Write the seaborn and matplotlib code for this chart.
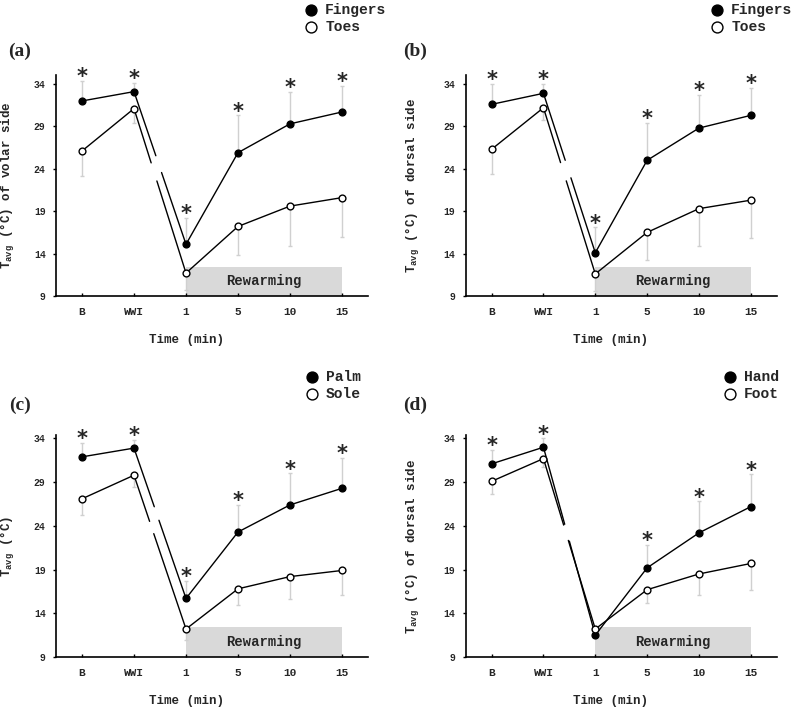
import numpy as np
import pandas as pd
import seaborn as sns
import matplotlib.pyplot as plt

# --- dados ---
times = ['B', 'WWI', '1', '5', '10', '15']
yticks = [9, 14, 19, 24, 29, 34]

# (a) lado volar
a_fingers = [32.0, 33.1, 15.1, 25.9, 29.3, 30.7]
a_fingers_sd = [2.35, 1.0, 3.1, 4.4, 3.8, 3.1]
a_toes = [26.1, 31.1, 11.7, 17.2, 19.6, 20.6]
a_toes_sd = [3.0, 1.7, 2.0, 3.4, 4.7, 4.6]
a_stars = [1, 1, 1, 1, 1, 1]

# (b) lado dorsal
b_fingers = [31.6, 32.9, 14.1, 25.0, 28.8, 30.3]
b_fingers_sd = [2.4, 1.1, 3.0, 4.4, 3.9, 3.2]
b_toes = [26.3, 31.2, 11.6, 16.5, 19.3, 20.3]
b_toes_sd = [2.9, 1.4, 2.0, 3.2, 4.4, 4.5]
b_stars = [1, 1, 1, 1, 1, 1]

# (c) palma / planta
c_palm = [31.9, 32.9, 15.7, 23.3, 26.4, 28.3]
c_palm_sd = [1.6, 0.9, 2.0, 3.1, 3.6, 3.5]
c_sole = [27.1, 29.8, 12.2, 16.8, 18.2, 18.9]
c_sole_sd = [1.9, 1.3, 1.2, 1.9, 2.6, 2.8]
c_stars = [1, 1, 1, 1, 1, 1]

# (d) dorso mão / pé
d_hand = [31.1, 33.0, 11.5, 19.2, 23.2, 26.2]
d_hand_sd = [1.6, 1.0, 0.0, 2.6, 3.6, 3.7]
d_foot = [29.1, 31.7, 12.2, 16.7, 18.5, 19.7]
d_foot_sd = [1.5, 1.0, 0.0, 1.5, 2.4, 3.0]
d_stars = [1, 1, 0, 1, 1, 1]

sns.set_style('ticks')
plt.rcParams['font.family'] = ['Liberation Mono', 'DejaVu Sans']
plt.rcParams['font.weight'] = 'bold'
plt.rcParams['axes.labelweight'] = 'bold'

W, H = 793, 708
fig = plt.figure(figsize=(W / 100, H / 100), dpi=100)

MONO = ['Liberation Mono', 'DejaVu Sans']


def px(x, y):
    # pixels da imagem -> fração da figura
    return x / W, 1 - y / H


def draw_panel(rect, top, upper, upper_sd, lower, lower_sd, names, stars,
               ylabel, tag, tag_xy, leg_xy, xlab_xy, ylab_x, gaps):
    ax = fig.add_axes(rect)
    x = np.arange(len(times))
    up = np.array(upper)
    lo = np.array(lower)

    # caixa de reaquecimento
    ax.fill_between([2, 5], 9, 12.45, color='#d9d9d9', lw=0, zorder=0)
    ax.text(3.5, 10.72, 'Rewarming', ha='center', va='center',
            fontsize=10, fontweight='bold', family=MONO, zorder=1)

    # barras de desvio (só um lado)
    ax.errorbar(x, up, yerr=[np.zeros_like(up), upper_sd], fmt='none',
                ecolor='#d0d0d0', elinewidth=1, capsize=1.5, zorder=1)
    ax.errorbar(x, lo, yerr=[lower_sd, np.zeros_like(lo)], fmt='none',
                ecolor='#d0d0d0', elinewidth=1, capsize=1.5, zorder=1)

    for vals, (g0, g1) in [(up, gaps[0]), (lo, gaps[1])]:
        sns.lineplot(x=x[:2], y=vals[:2], color='black', lw=1, ax=ax,
                     zorder=2, estimator=None, sort=False)
        sns.lineplot(x=x[2:], y=vals[2:], color='black', lw=1, ax=ax,
                     zorder=2, estimator=None, sort=False)
        # segmento WWI -> 1 interrompido (quebra do eixo)
        for t0, t1 in [(0, g0), (g1, 1)]:
            xs = [1 + t0, 1 + t1]
            ys = [vals[1] + t0 * (vals[2] - vals[1]), vals[1] + t1 * (vals[2] - vals[1])]
            ax.plot(xs, ys, color='black', lw=1, zorder=2)

    sns.scatterplot(x=x, y=up, color='black', edgecolor='black', s=24,
                    linewidth=1, ax=ax, zorder=3, label=names[0], legend=False)
    sns.scatterplot(x=x, y=lo, color='white', edgecolor='black', s=24,
                    linewidth=1, ax=ax, zorder=3, label=names[1], legend=False)

    # asteriscos de significância
    tops = up + np.array(upper_sd)
    for xi, yi, s in zip(x, tops, stars):
        if s:
            ax.annotate('*', xy=(xi, yi), xytext=(0, -4.5), textcoords='offset points',
                        ha='center', va='bottom', fontsize=15, fontweight='bold',
                        family='DejaVu Sans', annotation_clip=False)

    ax.set_xlim(-0.5, 5.5)
    ax.set_ylim(9, top)
    ax.set_xticks(x)
    ax.set_xticklabels(times, fontsize=8, fontweight='bold')
    ax.set_yticks(yticks)
    ax.set_yticklabels([str(v) for v in yticks], fontsize=7, fontweight='bold')
    ax.tick_params(axis='x', direction='in', length=2.5, width=1, color='black', pad=8)
    ax.tick_params(axis='y', direction='out', length=2.5, width=1, color='black', pad=5)
    sns.despine(ax=ax)
    for sp in ['left', 'bottom']:
        ax.spines[sp].set_linewidth(1.2)
        ax.spines[sp].set_color('black')

    ax.set_xlabel('Time (min)', fontsize=9, fontweight='bold')
    ax.xaxis.set_label_coords(*xlab_xy)
    ax.xaxis.label.set_va('center')
    ax.set_ylabel(ylabel, fontsize=9, fontweight='bold')
    ax.yaxis.set_label_coords(ylab_x, 0.5)
    ax.yaxis.label.set_va('center')

    handles, labels = ax.get_legend_handles_labels()
    keep = [(h, l) for h, l in zip(handles, labels) if l in names]
    ax.legend([h for h, _ in keep], [l for _, l in keep], loc='upper left',
              bbox_to_anchor=px(*leg_xy), bbox_transform=fig.transFigure,
              frameon=False, borderpad=0, handlelength=1, handletextpad=0.5,
              labelspacing=0.2, markerscale=1.6,
              prop={'family': MONO, 'weight': 'bold', 'size': 10.5})

    fig.text(*px(*tag_xy), tag, ha='center', va='center', fontsize=14,
             fontweight='bold', family='Liberation Serif')
    return ax


ylab_base = r'T$_\mathregular{avg}$ (°C)'

draw_panel([56 / W, 1 - 296 / H, 312 / W, 221 / H], 35.06,
           a_fingers, a_fingers_sd, a_toes, a_toes_sd, ['Fingers', 'Toes'], a_stars,
           ylab_base + ' of volar side', '(a)', (20, 51), (296, -4),
           (0.417, -0.197), -0.155, [(0.42, 0.53), (0.33, 0.44)])

draw_panel([465.7 / W, 1 - 296 / H, 311 / W, 221 / H], 35.06,
           b_fingers, b_fingers_sd, b_toes, b_toes_sd, ['Fingers', 'Toes'], b_stars,
           ylab_base + ' of dorsal side', '(b)', (415, 51), (702, -4),
           (0.464, -0.2), -0.169, [(0.42, 0.53), (0.33, 0.44)])

draw_panel([56 / W, 1 - 657 / H, 312 / W, 222 / H], 34.4,
           c_palm, c_palm_sd, c_sole, c_sole_sd, ['Palm', 'Sole'], c_stars,
           ylab_base, '(c)', (20, 405), (297, 363),
           (0.417, -0.198), -0.155, [(0.39, 0.48), (0.30, 0.38)])

draw_panel([465.7 / W, 1 - 657 / H, 311 / W, 222 / H], 34.4,
           d_hand, d_hand_sd, d_foot, d_foot_sd, ['Hand', 'Foot'], d_stars,
           ylab_base + ' of dorsal side', '(d)', (415, 405), (715, 363),
           (0.464, -0.198), -0.169, [(0.41, 0.50), (0.39, 0.48)])

fig.savefig('out.png', dpi=100)
